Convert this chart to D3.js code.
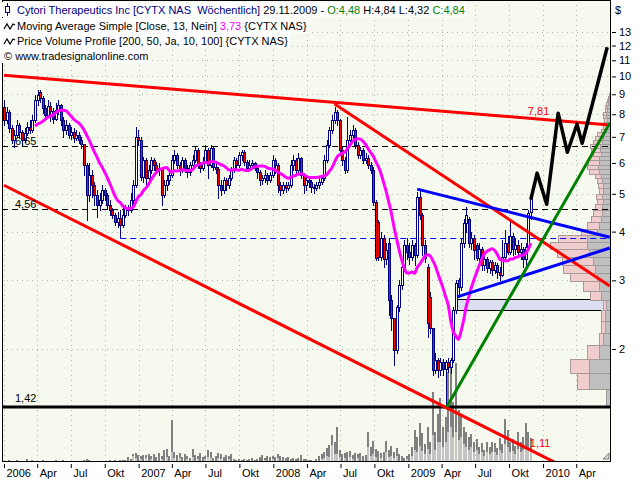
<!DOCTYPE html>
<html><head><meta charset="utf-8">
<script src="https://cdn.jsdelivr.net/npm/d3@7/dist/d3.min.js"></script>
<style>
body{margin:0;background:#fff;}
svg{display:block;font-family:"Liberation Sans",Arial,sans-serif;}
text{white-space:pre;}
</style>
</head><body>
<svg id="chart" width="640" height="480"></svg>
<script>
// ---------------- DATA ----------------
const firstWeek = "2006-01-01";
const opens = [8.34,7.72,8.10,7.37,6.86,7.07,7.50,7.20,6.86,7.15,7.41,7.28,7.72,8.69,9.10,8.80,8.30,7.95,8.40,8.15,
7.80,8.20,8.44,7.72,7.28,7.50,7.07,7.20,6.94,7.07,6.86,6.70,5.92,4.96,5.58,5.26,4.96,4.68,4.82,5.11,
4.96,4.68,4.54,4.41,4.23,4.33,4.16,4.41,4.60,4.54,4.82,5.26,7.00,6.86,5.52,6.10,5.48,5.75,6.10,5.92,
5.75,5.82,4.96,5.26,5.42,5.58,6.10,6.28,5.92,5.75,6.10,5.82,5.68,5.92,6.10,6.47,5.92,5.82,6.03,6.47,
5.92,6.55,5.86,5.80,5.26,5.11,5.42,5.26,5.48,5.75,6.10,5.92,6.28,6.39,6.03,5.82,5.92,5.99,5.82,5.68,
5.42,5.48,5.58,5.42,5.58,6.10,5.92,5.26,5.11,5.26,5.17,5.26,5.92,6.10,5.75,6.17,5.58,5.26,5.42,5.36,
5.20,5.17,5.26,5.36,5.48,6.10,6.66,7.28,7.72,8.10,7.72,6.47,6.10,5.75,6.86,7.07,7.28,6.66,6.28,6.47,
6.10,6.17,5.92,5.75,4.76,4.23,3.44,3.85,3.40,3.73,2.67,2.40,1.99,2.56,2.92,3.24,3.69,3.55,3.44,3.69,
3.48,4.90,4.41,3.69,3.24,2.72,2.27,1.77,1.87,1.77,1.85,1.78,1.85,1.80,1.87,2.52,3.00,2.88,3.75,4.20,
4.30,3.73,3.85,3.70,3.43,3.60,3.28,3.40,3.23,3.34,3.19,3.28,3.15,3.10,3.45,3.75,3.55,3.90,3.60,3.70,
3.55,3.60,3.40,3.65,4.48];
const highs = [8.69,8.34,8.19,7.50,7.28,7.72,7.59,7.28,7.37,7.63,7.72,7.95,8.95,9.22,9.22,8.90,8.44,8.69,8.60,8.30,
8.55,8.69,8.50,7.86,7.72,7.59,7.41,7.37,7.28,7.20,7.00,6.70,6.00,5.99,5.75,5.36,5.11,5.02,5.26,5.17,
5.02,4.82,4.60,4.46,4.49,4.54,4.60,4.68,4.68,5.02,5.42,7.41,7.28,7.00,6.21,6.17,5.92,6.21,6.17,6.03,
5.99,5.86,5.42,5.58,5.75,6.28,6.47,6.36,6.03,6.21,6.17,5.92,6.03,6.28,6.59,6.55,6.03,6.21,6.66,6.55,
6.66,6.59,6.03,5.86,5.42,5.52,5.48,5.60,5.86,6.21,6.17,6.39,6.47,6.47,6.10,6.10,6.10,6.03,5.86,5.75,
5.60,5.75,5.65,5.68,6.28,6.17,5.99,5.36,5.36,5.36,5.36,6.10,6.28,6.17,6.36,6.21,5.65,5.52,5.52,5.42,
5.30,5.36,5.48,5.60,6.28,6.86,7.41,7.95,8.34,8.19,7.80,6.59,6.21,7.86,7.28,7.50,7.37,6.78,6.59,6.55,
6.36,6.28,6.03,5.86,4.82,4.28,3.99,3.92,3.73,3.85,2.75,2.40,2.60,3.00,3.34,3.80,3.85,3.75,3.80,3.73,
5.05,5.11,4.46,3.80,3.30,2.80,2.27,1.95,1.90,1.90,1.88,1.87,1.90,1.90,2.56,3.00,3.05,3.85,4.30,4.62,
4.36,4.00,3.92,3.75,3.73,3.65,3.55,3.44,3.38,3.38,3.34,3.32,3.25,3.80,4.04,3.90,4.28,3.97,3.85,3.80,
3.73,3.65,3.73,4.54,4.84];
const lows = [7.50,7.59,7.20,6.74,6.59,6.99,6.94,6.66,6.78,7.07,7.15,7.20,7.63,8.44,8.60,8.05,7.80,7.86,7.70,7.59,
7.72,8.00,7.50,6.99,7.10,6.94,6.90,6.78,6.86,6.74,6.55,5.60,4.28,4.80,4.90,4.68,4.36,4.54,4.73,4.82,
4.60,4.41,4.33,4.16,4.11,3.87,4.11,4.36,4.41,4.49,4.73,5.20,6.66,5.42,5.36,5.20,5.42,5.65,5.75,5.65,
5.60,4.68,4.90,5.11,5.30,5.52,5.99,5.82,5.58,5.70,5.68,5.52,5.60,5.86,6.03,5.82,5.68,5.75,5.99,5.48,
5.86,5.75,5.65,4.87,4.96,5.02,5.11,5.17,5.42,5.68,5.82,5.86,6.10,5.92,5.75,5.75,5.82,5.75,5.48,5.26,
5.30,5.36,5.30,5.36,5.52,5.65,5.05,4.96,5.02,5.05,5.11,5.20,5.75,5.65,5.68,5.48,5.02,5.11,5.20,5.05,
5.02,5.11,5.17,5.30,5.42,6.03,6.59,7.15,7.59,7.50,6.36,5.92,5.65,5.70,6.66,6.94,6.55,6.17,6.17,6.00,
5.99,5.82,5.65,4.68,3.38,3.38,3.38,3.24,3.30,2.44,2.24,1.82,1.95,2.50,2.85,3.19,3.40,3.30,3.38,3.28,
3.44,4.30,3.48,3.34,2.15,2.20,1.72,1.74,1.70,1.72,1.72,1.42,1.75,1.74,1.85,2.47,2.72,2.83,3.65,4.00,
3.65,3.60,3.40,3.38,3.34,3.19,3.19,3.15,3.14,3.10,3.14,3.04,3.00,3.08,3.40,3.50,3.50,3.48,3.50,3.44,
3.40,3.25,3.22,3.60,4.32];
const closes = [7.72,8.10,7.37,6.86,7.07,7.50,7.20,6.86,7.15,7.41,7.28,7.72,8.69,8.95,8.80,8.30,7.95,8.40,8.15,7.80,
8.20,8.44,7.72,7.28,7.50,7.07,7.20,6.94,7.07,6.86,6.70,5.92,4.96,5.58,5.26,4.96,4.68,4.82,5.11,4.96,
4.68,4.54,4.41,4.23,4.33,4.16,4.41,4.60,4.54,4.82,5.26,7.00,6.86,5.52,6.10,5.48,5.75,6.10,5.92,5.75,
5.82,4.96,5.26,5.42,5.58,6.10,6.28,5.92,5.75,6.10,5.82,5.68,5.92,6.10,6.47,5.92,5.82,6.03,6.47,5.92,
6.55,5.86,5.80,5.26,5.11,5.42,5.26,5.48,5.75,6.10,5.92,6.28,6.39,6.03,5.82,5.92,5.99,5.82,5.68,5.42,
5.48,5.58,5.42,5.58,6.10,5.92,5.26,5.11,5.26,5.17,5.26,5.92,6.10,5.75,6.17,5.58,5.26,5.42,5.36,5.20,
5.17,5.26,5.36,5.48,6.10,6.66,7.28,7.72,8.10,7.72,6.47,6.10,5.75,6.86,7.07,7.28,6.66,6.28,6.47,6.10,
6.17,5.92,5.75,4.76,3.43,3.44,3.85,3.40,3.59,2.67,2.40,1.99,2.56,2.92,3.24,3.69,3.55,3.44,3.69,3.48,
4.90,4.41,3.69,3.43,2.33,2.27,1.77,1.87,1.77,1.85,1.78,1.85,1.80,1.87,2.52,2.95,2.88,3.75,4.20,4.41,
3.73,3.85,3.59,3.43,3.60,3.28,3.40,3.23,3.34,3.19,3.28,3.15,3.10,3.45,3.75,3.55,3.90,3.60,3.70,3.55,
3.60,3.40,3.65,4.46,4.84];
// weekly volume (Mio.) — full bar and lighter lower part
const volume = [0.1,0.1,0.2,0.1,0.1,0.2,0.1,0.1,0.1,0.3, 0.1,0.2,0.1,0.1,0.1,0.2,0.1,0.1,0.1,0.1,
0.2,0.1,0.1,0.2,0.1,0.1,0.1,0.1,0.1,0.1, 0.1,0.2,0.3,0.2,0.1,0.1,0.1,0.1,0.1,0.1,
0.1,0.2,0.1,0.2,0.1,0.2,0.2,0.2,0.5,0.3, 0.8,0.9,0.7,0.6,0.7,0.7,0.8,0.6,0.8,0.5,
0.9,0.6,1.2,1.3,0.6,4.2,1.0,0.7,0.9,0.5, 0.8,0.6,0.4,1.3,0.7,0.6,0.9,0.5,0.6,1.2,
1.0,0.4,0.6,0.9,0.8,0.5,0.7,0.6,0.8,0.3, 0.2,0.3,0.2,0.3,0.2,0.3,0.4,0.2,0.3,0.5,
0.7,0.4,0.6,0.5,0.6,0.5,0.8,0.6,0.5,0.4, 0.5,0.3,0.4,0.3,0.4,0.7,0.3,0.3,0.2,0.2,
0.1,0.3,0.6,0.8,1.0,1.4,1.7,2.7,2.0,3.5, 1.2,0.8,0.9,1.0,1.1,0.7,0.9,0.8,0.9,0.6,
0.7,3.0,1.5,2.1,1.3,1.1,0.9,1.0,2.1,1.2, 1.6,1.0,1.4,0.8,0.6,0.4,0.6,0.8,1.5,3.2,
2.5,3.9,2.9,1.8,3.5,2.0,7.0,3.0,4.8,6.4, 3.5,4.5,9.0,9.4,6.0,9.9,5.2,4.7,3.5,3.0,
2.5,2.8,2.0,2.3,1.5,1.9,1.2,2.0,1.5,2.0, 1.9,1.4,2.4,1.8,4.3,3.2,2.0,2.3,1.6,3.0,
2.0,2.5,3.9,3.0,2.4];
const volumeLight = [0,0,0,0,0,0,0,0,0,0, 0,0,0,0,0,0,0,0,0,0, 0,0,0,0,0,0,0,0,0,0, 0,0,0,0,0,0,0,0,0,0,
0,0,0,0,0,0,0,0,0,0, 0.6,0.4,0,0.3,0,0.4,0,0.3,0,0, 0,0.3,0,0.5,0,1.0,0.4,0,0.4,0,
0,0.3,0,0.5,0,0.3,0,0,0.3,0.5, 0.4,0,0,0.4,0.3,0,0,0.3,0,0, 0,0,0,0,0,0,0,0,0,0,
0,0.2,0,0,0.3,0,0.4,0,0,0, 0,0,0,0,0,0,0,0,0,0, 0,0,0,0.3,0.4,0.6,0.5,1.7,0.8,0.8,
0.5,0,0.4,0,0.5,0.3,0,0.4,0,0, 0,1.5,0.6,0.8,0.5,0,0.4,0,1.0,0.5, 0.6,0.4,0.6,0,0,0,0.3,0,0.6,1.2,
1.0,1.6,1.1,0.8,1.3,0.8,2.7,1.2,2.0,2.0, 1.5,2.0,3.0,3.5,2.5,3.0,2.2,2.5,1.8,1.5,
1.2,1.5,1.0,1.2,0.8,1.0,0.6,1.0,0.8,1.0, 1.0,0.7,1.2,0.9,1.8,1.5,1.0,1.1,0.8,1.3,
1.0,1.2,1.5,1.3,1.0];
const maPeriod = 13;

// Price volume profile: 50 rows between low and high of the lookback
const profileLow = 1.42, profileHigh = 9.22, profileRows = 50;
const profileDown = [0,12,19,12,4,4,4,3,11,16, 27,32,31,32,37,29,16,12,10,9, 7,6,6,4,5,5,6,10,11,11,
10,8,9,10,9,8,6,4,3,3, 3,3,3,2,2,2,1,1,0,0];
const profileUp = [5,22,22,12,8,6,6,5,10,12, 14,16,18,22,24,24,14,12,10,9, 9,8,9,8,8,9,10,12,13,12,
12,10,11,11,9,8,8,6,5,5, 4,5,5,4,4,3,3,2,2,0];
const valueArea = {from:"2009-05-10", low:2.52, high:2.68};

const yTicks = [2,3,4,5,6,7,8,9,10,11,12,13];
const xTickLabels = ["2006","Apr","Jul","Okt","2007","Apr","Jul","Okt","2008","Apr","Jul","Okt","2009","Apr","Jul","Okt","2010","Apr"];

const levelLines = [{v:6.65,label:"6,65"},{v:4.56,label:"4,56"}];
const blueLevel = {from:"2006-11-12", v:3.85};
const lowLevel = {v:1.42, label:"1,42"};
const trendTop = [["2006-01-01",10.07],["2010-07-01",7.51]];
const trendTopLabel = ["2009-11-29","7,81"];
const trendDown = [["2008-06-15",8.50],["2010-07-01",2.90]];
const trendLow = [["2006-01-01",5.26],["2010-07-01",0.87]];
const trendLowLabel = ["2009-11-29","1,11"];
const trendGreen = [["2009-04-15",1.42],["2010-07-01",7.59]];
const triUpper = [["2009-01-25",5.14],["2010-07-01",3.87]];
const triLower = [["2009-05-13",2.72],["2010-07-01",3.63]];
const projection = [["2009-11-29",4.84],["2009-12-16",5.65],["2010-01-11",4.70],["2010-02-11",8.05],
["2010-03-08",6.39],["2010-04-03",7.54],["2010-04-17",6.74],["2010-06-24",11.88]];

// ---------------- CHART ----------------
const parse = d3.timeParse("%Y-%m-%d");
const P = {l:2, r:611, t:0, b:462};
const svg = d3.select("#chart");
const x = d3.scaleTime().domain([parse("2006-01-01"), parse("2010-07-01")]).range([4, 609.8]);
const y = d3.scaleLog().domain([1.42, 13]).range([407, 32]);
const yv = d3.scaleLinear().domain([0, 10]).range([P.b, P.b - 100]);
const xp = d3.scaleLinear().domain([0, 100]).range([0, 100]);

const start = parse(firstWeek);
const dates = closes.map((_, i) => d3.timeDay.offset(start, 7 * i));
const cx = i => Math.round(x(dates[i]));

svg.append("rect").attr("width",640).attr("height",480).attr("fill","#fff");
svg.append("rect").attr("x",P.l).attr("y",P.t).attr("width",P.r-P.l).attr("height",P.b-P.t).attr("fill","#f6f9ee");
svg.append("clipPath").attr("id","clip").append("rect").attr("x",P.l).attr("y",P.t).attr("width",P.r-P.l).attr("height",P.b-P.t);
const g = svg.append("g").attr("clip-path","url(#clip)");

// grid
const quarters = d3.timeMonth.range(parse("2006-01-01"), parse("2010-05-01"), 3);
g.append("g").selectAll("line").data(quarters).join("line")
  .attr("x1",d=>Math.round(x(d))+0.5).attr("x2",d=>Math.round(x(d))+0.5)
  .attr("y1",P.t).attr("y2",P.b).attr("stroke","#b4b4b4").attr("stroke-dasharray","1,4");
g.append("g").selectAll("line").data(yTicks).join("line")
  .attr("x1",P.l).attr("x2",P.r).attr("y1",d=>Math.round(y(d))+0.5).attr("y2",d=>Math.round(y(d))+0.5)
  .attr("stroke","#b4b4b4").attr("stroke-dasharray","1,4");

// volume
g.append("g").selectAll("rect").data(volume).join("rect")
  .attr("x",(d,i)=>cx(i)-1).attr("width",2)
  .attr("y",d=>yv(d)).attr("height",d=>P.b-yv(d)).attr("fill","#808080");
g.append("g").selectAll("rect").data(volumeLight).join("rect")
  .attr("x",(d,i)=>cx(i)-1).attr("width",2)
  .attr("y",d=>yv(d)).attr("height",d=>P.b-yv(d)).attr("fill","#c4c4c4");

// value area box
g.append("rect").attr("x",Math.round(x(parse(valueArea.from)))+0.5)
  .attr("y",Math.round(y(valueArea.high))+0.5)
  .attr("width",P.r-Math.round(x(parse(valueArea.from))))
  .attr("height",Math.round(y(valueArea.low))-Math.round(y(valueArea.high)))
  .attr("fill","#dcdff0").attr("stroke","#000");

// volume profile
const step = (profileHigh - profileLow) / profileRows;
const rows = profileUp.map((u, k) => ({k, up:u, down:profileDown[k],
  y0: Math.round(y(profileLow + (k+1)*step)), y1: Math.round(y(profileLow + k*step))}));
const pg = g.append("g");
pg.selectAll(".pu").data(rows.filter(r=>r.up>0)).join("rect")
  .attr("x",r=>P.r - xp(r.up) + 0.5).attr("width",r=>xp(r.up))
  .attr("y",r=>r.y0+0.5).attr("height",r=>r.y1-r.y0)
  .attr("fill","#c0c0c0").attr("stroke","#9a9a9a");
pg.selectAll(".pd").data(rows.filter(r=>r.down>0)).join("rect")
  .attr("x",r=>P.r - xp(r.up) - xp(r.down) + 0.5).attr("width",r=>xp(r.down))
  .attr("y",r=>r.y0+0.5).attr("height",r=>r.y1-r.y0)
  .attr("fill","#f0cccc").attr("stroke","#a89a9a");

// level lines
levelLines.forEach(l=>{
  const yy = Math.round(y(l.v))+0.5;
  g.append("line").attr("x1",P.l).attr("x2",P.r).attr("y1",yy).attr("y2",yy)
   .attr("stroke","#000").attr("stroke-dasharray","6,4");
  svg.append("text").attr("x",15).attr("y",yy-2).attr("font-size",11).text(l.label);
});
{
  const yy = Math.round(y(blueLevel.v))+0.5;
  g.append("line").attr("x1",x(parse(blueLevel.from))).attr("x2",P.r).attr("y1",yy).attr("y2",yy)
   .attr("stroke","#0000ff").attr("stroke-dasharray","6,4");
}
{
  const yy = y(lowLevel.v);
  g.append("line").attr("x1",P.l).attr("x2",P.r).attr("y1",yy).attr("y2",yy)
   .attr("stroke","#000").attr("stroke-width",3);
  svg.append("text").attr("x",15).attr("y",yy-5).attr("font-size",11).text(lowLevel.label);
}

// candles
const cg = g.append("g");
cg.selectAll("line").data(closes).join("line")
  .attr("x1",(d,i)=>cx(i)+0.5).attr("x2",(d,i)=>cx(i)+0.5)
  .attr("y1",(d,i)=>Math.round(y(highs[i]))).attr("y2",(d,i)=>Math.round(y(lows[i]))+1)
  .attr("stroke","#000080");
cg.selectAll("rect").data(closes).join("rect")
  .attr("x",(d,i)=>cx(i)-0.5).attr("width",2)
  .attr("y",(d,i)=>Math.round(y(Math.max(opens[i],d)))+0.5)
  .attr("height",(d,i)=>Math.max(1, Math.round(y(Math.min(opens[i],d))) - Math.round(y(Math.max(opens[i],d)))))
  .attr("fill",(d,i)=> d < opens[i] ? "#ff0000" : "#ffffff")
  .attr("stroke","#000080");

// moving average
const ma = closes.map((c,i)=> i < maPeriod-1 ? null : d3.mean(closes.slice(i-maPeriod+1, i+1)));
g.append("path").datum(ma.map((v,i)=>[dates[i],v]).filter(d=>d[1]!==null))
  .attr("d", d3.line().x(d=>x(d[0])).y(d=>y(d[1])).curve(d3.curveMonotoneX))
  .attr("fill","none").attr("stroke","#ff00ff").attr("stroke-width",3).attr("stroke-linejoin","round");

// trend lines
const tl = d3.line().x(d=>x(parse(d[0]))).y(d=>y(d[1]));
const drawTL = (pts, color, w) => g.append("path").attr("d", tl(pts)).attr("fill","none")
  .attr("stroke",color).attr("stroke-width",w).attr("stroke-linejoin","round");
drawTL(trendTop,"#ff0000",3);
drawTL(trendDown,"#ff0000",3);
drawTL(trendLow,"#ff0000",3);
drawTL(triUpper,"#0000ff",3);
drawTL(triLower,"#0000ff",3);
drawTL(trendGreen,"#008000",3);
drawTL(projection,"#000000",3.5);

// trend labels (value at last bar)
const lblTop = x(parse(trendTopLabel[0]));
svg.append("text").attr("x",lblTop-3).attr("y",115).attr("font-size",11).attr("fill","#ff0000").text(trendTopLabel[1]);
svg.append("text").attr("x",lblTop-1).attr("y",447).attr("font-size",11).attr("fill","#ff0000").text(trendLowLabel[1]);

// frame
svg.append("rect").attr("x",P.l+0.5).attr("y",P.t+0.5).attr("width",P.r-P.l-1).attr("height",P.b-P.t-1)
  .attr("fill","none").attr("stroke","#000");
// resize grip
svg.append("path").attr("d","M603,459 L609,453 L609,459 Z").attr("fill","#d8d8d8").attr("stroke","#808080");

// right axis
const ya = svg.append("g").attr("transform",`translate(${P.r+1},0)`)
  .call(d3.axisRight(y).tickValues(yTicks).tickFormat(d3.format("d")).tickSize(4).tickPadding(3));
ya.select(".domain").remove();
ya.selectAll("text").attr("font-size",11).attr("font-family","Liberation Sans, Arial, sans-serif").attr("fill","#000");
ya.selectAll("line").attr("stroke","#000");
svg.append("text").attr("x",615).attr("y",14).attr("font-size",11).text("$");

// bottom axis
const xa = svg.append("g").attr("transform",`translate(0,${P.b+2})`)
  .call(d3.axisBottom(x).tickValues(quarters).tickFormat((d,i)=>xTickLabels[i]).tickSize(4).tickPadding(2));
xa.select(".domain").remove();
xa.selectAll(".tick line").attr("stroke","#000");
xa.selectAll("text").attr("font-size",11).attr("font-family","Liberation Sans, Arial, sans-serif")
  .attr("fill","#000").attr("text-anchor","start").attr("x",2).attr("y",5);

// legend
const lg = svg.append("g").attr("font-size",11);
const lines = [
  {y:14, x:17, parts:[["Cytori Therapeutics Inc [CYTX NAS  Wöchentlich] ","#000080"],["29.11.2009 - ","#000"],["O:4,48","#008000"],[" H:4,84 L:4,32 ","#000"],["C:4,84","#008000"]]},
  {y:30, x:17, parts:[["Moving Average Simple [Close, 13, Nein] ","#000"],["3,73","#ff00ff"],[" {CYTX NAS}","#000"]]},
  {y:45, x:17, parts:[["Price Volume Profile [200, 50, Ja, 10, 100] {CYTX NAS}","#000"]]},
  {y:60, x:4, parts:[["© www.tradesignalonline.com","#000"]]}
];
lines.forEach(L=>{
  const bg = lg.append("rect").attr("fill","#fff");
  const t = lg.append("text").attr("x",L.x).attr("y",L.y);
  L.parts.forEach(p=>t.append("tspan").attr("fill",p[1]).text(p[0]));
  const bb = t.node().getBBox();
  bg.attr("x",0).attr("y",L.y-12).attr("width",bb.x+bb.width+2).attr("height",15);
});
// legend icons
lg.append("line").attr("x1",7.5).attr("x2",7.5).attr("y1",3).attr("y2",16).attr("stroke","#000080");
lg.append("rect").attr("x",5.5).attr("y",6.5).attr("width",4).attr("height",6).attr("fill","#fff").attr("stroke","#000080");
[30,45].forEach(yy=>lg.append("path").attr("d",`M4,${yy-1} L7,${yy-6} L10,${yy-1} L13,${yy-6} L15,${yy-5}`)
  .attr("fill","none").attr("stroke","#000").attr("stroke-width",1.2));
</script>
</body></html>
